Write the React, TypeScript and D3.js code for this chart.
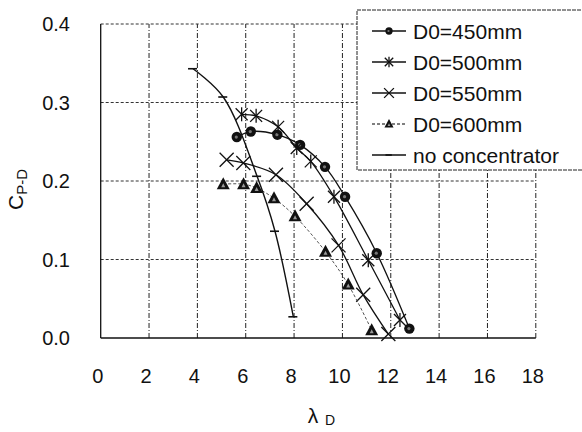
import React from "react";
import * as d3 from "d3";

const xTicks = [0, 2, 4, 6, 8, 10, 12, 14, 16, 18];
const yTicks = [0.0, 0.1, 0.2, 0.3, 0.4];

const d450X = [5.63, 6.21, 7.31, 8.25, 9.28, 10.11, 11.42, 12.77];
const d450Y = [0.256, 0.263, 0.259, 0.246, 0.218, 0.18, 0.108, 0.012];

const d500X = [5.83, 6.43, 7.34, 8.11, 8.69, 9.65, 11.07, 12.38];
const d500Y = [0.285, 0.283, 0.269, 0.242, 0.225, 0.18, 0.099, 0.023];

const d550X = [5.21, 5.9, 7.25, 8.52, 9.84, 10.86, 11.9];
const d550Y = [0.227, 0.223, 0.208, 0.171, 0.118, 0.055, 0.005];

const d600X = [5.07, 5.91, 6.45, 7.17, 8.04, 9.3, 10.24, 11.21];
const d600Y = [0.196, 0.196, 0.191, 0.178, 0.155, 0.11, 0.068, 0.01];

const noX = [3.82, 5.07, 6.47, 7.21, 7.97];
const noY = [0.343, 0.307, 0.206, 0.136, 0.027];

const seriesNames = ["D0=450mm", "D0=500mm", "D0=550mm", "D0=600mm", "no concentrator"];

const W = 582;
const H = 432;
const x = d3.scaleLinear().domain([0, 18]).range([100.7, 535.8]);
const y = d3.scaleLinear().domain([0, 0.4]).range([338, 24]);

type Kind = "circle" | "star" | "cross" | "tri" | "dash";

function Marker({ kind, cx, cy, k = 1 }: { kind: Kind; cx: number; cy: number; k?: number }) {
  if (kind === "circle") {
    return (
      <g>
        <circle cx={cx} cy={cy} r={5.2 * k} fill="#111" />
        <circle cx={cx - 0.5} cy={cy} r={1.6 * k} fill="#777" />
      </g>
    );
  }
  if (kind === "star") {
    const s = 6 * k;
    return (
      <g stroke="#111" strokeWidth={1.3}>
        <line x1={cx - s} y1={cy - s} x2={cx + s} y2={cy + s} />
        <line x1={cx - s} y1={cy + s} x2={cx + s} y2={cy - s} />
        <line x1={cx} y1={cy - s - 1} x2={cx} y2={cy + s + 1} />
      </g>
    );
  }
  if (kind === "cross") {
    const s = 7 * k;
    return (
      <g stroke="#111" strokeWidth={1.3}>
        <line x1={cx - s} y1={cy - s} x2={cx + s} y2={cy + s} />
        <line x1={cx - s} y1={cy + s} x2={cx + s} y2={cy - s} />
      </g>
    );
  }
  if (kind === "tri") {
    return (
      <g>
        <path d={`M${cx},${cy - 7 * k}L${cx + 6.5 * k},${cy + 5 * k}L${cx - 6.5 * k},${cy + 5 * k}Z`} fill="#111" />
        <path d={`M${cx},${cy - 1 * k}L${cx + 2 * k},${cy + 3 * k}L${cx - 2 * k},${cy + 3 * k}Z`} fill="#999" />
      </g>
    );
  }
  return <line x1={cx - 5 * k} y1={cy} x2={cx + 4 * k} y2={cy} stroke="#111" strokeWidth={1.6} />;
}

const series: { xs: number[]; ys: number[]; kind: Kind; dash?: string; color: string; width: number }[] = [
  { xs: d450X, ys: d450Y, kind: "circle", color: "#111", width: 1.3 },
  { xs: d500X, ys: d500Y, kind: "star", color: "#111", width: 1.3 },
  { xs: d550X, ys: d550Y, kind: "cross", color: "#111", width: 1.3 },
  { xs: d600X, ys: d600Y, kind: "tri", color: "#555", width: 1, dash: "3,2" },
  { xs: noX, ys: noY, kind: "dash", color: "#111", width: 1.4 },
];

const line = d3
  .line<[number, number]>()
  .x((d) => x(d[0]))
  .y((d) => y(d[1]))
  .curve(d3.curveCatmullRom.alpha(0.5));

export default function App() {
  const font = "'Liberation Sans', Arial, sans-serif";
  return (
    <svg width={W} height={H} style={{ position: "absolute", left: 0, top: 0, background: "#fff" }} fontFamily={font}>
      <rect x={0} y={0} width={W} height={H} fill="#fff" />
      {/* gridlines */}
      {xTicks.slice(1).map((t) => (
        <line key={"gx" + t} x1={x(t)} x2={x(t)} y1={y(0)} y2={y(0.4)} stroke="#222" strokeWidth={1} strokeDasharray="5,2,1,2" />
      ))}
      {yTicks.slice(1).map((t) => (
        <line key={"gy" + t} x1={x(0)} x2={x(18)} y1={y(t)} y2={y(t)} stroke="#333" strokeWidth={1} strokeDasharray="3,2" />
      ))}
      {/* axes */}
      <line x1={x(0)} x2={x(0)} y1={y(0)} y2={y(0.4)} stroke="#111" strokeWidth={1.3} />
      <line x1={x(0)} x2={x(18)} y1={y(0)} y2={y(0)} stroke="#111" strokeWidth={1.5} />
      {/* series */}
      {series.map((s, i) => {
        const pts = s.xs.map((v, j) => [v, s.ys[j]] as [number, number]);
        return (
          <g key={"s" + i}>
            <path d={line(pts) || ""} fill="none" stroke={s.color} strokeWidth={s.width} strokeDasharray={s.dash} />
            {pts.map((p, j) => (
              <Marker key={j} kind={s.kind} cx={x(p[0])} cy={y(p[1])} />
            ))}
          </g>
        );
      })}
      {/* tick labels */}
      {xTicks.map((t) => (
        <text key={"xt" + t} x={x(t) - 3} y={383} fontSize={20} textAnchor="middle" fill="#111">
          {t}
        </text>
      ))}
      {yTicks.map((t) => (
        <text key={"yt" + t} x={70} y={y(t) + 7} fontSize={20} textAnchor="end" fill="#111">
          {t.toFixed(1)}
        </text>
      ))}
      {/* axis titles */}
      <text x={313} y={423} fontSize={21} textAnchor="middle" fill="#111">
        λ
      </text>
      <text x={330} y={425} fontSize={14} textAnchor="middle" fill="#111">
        D
      </text>
      <g transform="translate(23,210) rotate(-90)">
        <text x={0} y={0} fontSize={21} fill="#111">
          C
          <tspan fontSize={15} dy={4}>P-D</tspan>
        </text>
      </g>
      {/* legend */}
      <rect x={357} y={10} width={240} height={160} fill="#fff" stroke="#222" strokeWidth={1} strokeDasharray="4,1" />
      {seriesNames.map((name, i) => {
        const s = series[i];
        const cy = 31 + i * 31;
        return (
          <g key={"lg" + i}>
            <line x1={372} x2={406} y1={cy} y2={cy} stroke={s.color} strokeWidth={s.width + 0.3} strokeDasharray={s.dash} />
            <Marker kind={s.kind} cx={389} cy={cy} k={0.7} />
            <text x={413} y={cy + 8} fontSize={21} fill="#111">
              {name}
            </text>
          </g>
        );
      })}
    </svg>
  );
}
